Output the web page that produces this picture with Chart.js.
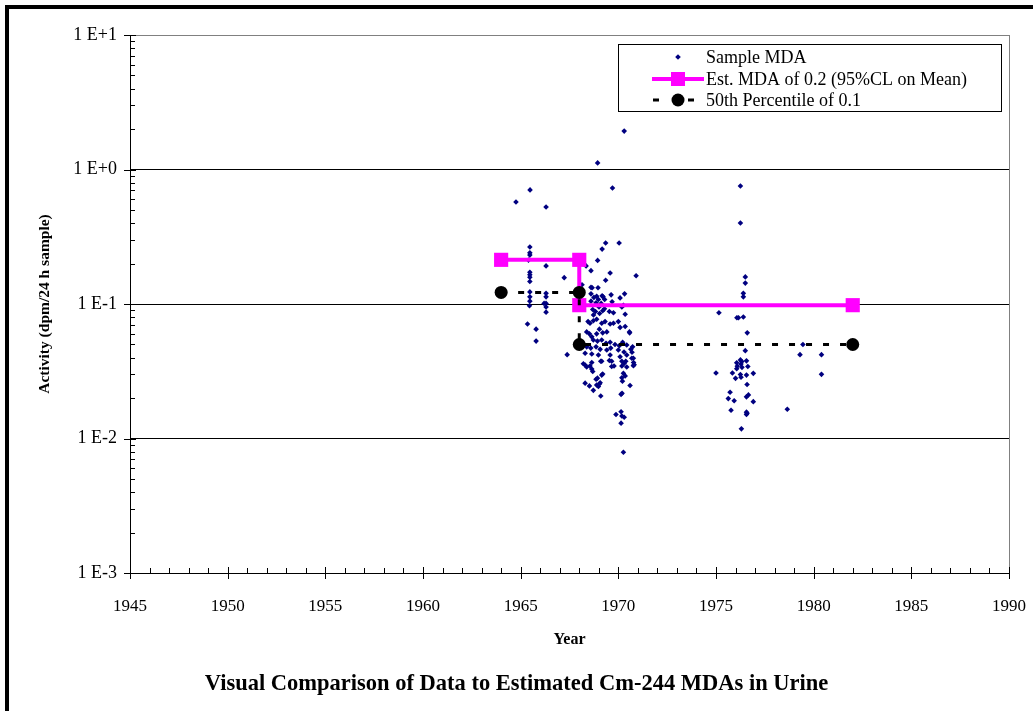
<!DOCTYPE html>
<html>
<head>
<meta charset="utf-8">
<script src="https://cdn.jsdelivr.net/npm/chart.js@4"></script>
<style>
html,body{margin:0;padding:0;background:#fff;}
#wrap{position:relative;width:1033px;height:711px;overflow:hidden;background:#fff;}
#frame{position:absolute;left:5px;top:5px;width:1100px;height:800px;border-left:4px solid #000;border-top:4px solid #000;pointer-events:none;}
canvas{position:absolute;left:0;top:0;}
</style>
</head>
<body>
<div id="wrap"><canvas id="c" width="1033" height="711"></canvas><div id="frame"></div></div>
<script>
// ---------------- DATA ----------------
const xTickLabels = ['1945','1950','1955','1960','1965','1970','1975','1980','1985','1990'];
const yTickLabels = ['1 E-3','1 E-2','1 E-1','1 E+0','1 E+1'];
const yTickValues = [0.001, 0.01, 0.1, 1, 10];

const seriesNames = ['Sample MDA', 'Est. MDA of 0.2 (95%CL on Mean)', '50th Percentile of 0.1'];

const sampleYears = [
  1964.76,1965.48,1966.30,1965.47,1965.47,1965.47,1965.40,1965.47,1965.47,1965.47,
  1965.47,1965.47,1965.47,1965.47,1965.45,1965.35,1965.79,1965.79,1966.30,1966.30,
  1966.30,1966.30,1966.20,1966.30,1966.30,1967.23,1967.38,
  1968.94,1969.70,1970.30,1969.35,1969.17,1970.04,1968.94,1968.35,1968.60,1969.58,
  1969.35,1970.91,1968.14,1968.60,1968.66,1968.96,1968.60,1969.63,1970.32,1970.09,
  1969.68,1968.89,1969.22,1969.17,
  1968.98,1968.86,1969.12,1969.01,1968.69,1968.83,1968.73,1969.04,1969.20,1969.29,
  1969.54,1969.75,1970.18,1970.26,1970.35,1968.45,1968.55,1968.72,1968.89,1969.15,
  1969.32,1969.58,1969.75,1970.00,1970.09,1970.35,1970.57,1968.38,1968.52,1968.64,
  1968.89,1969.03,1969.20,1969.41,1968.72,1968.93,1969.15,1969.37,1969.58,1969.83,
  1970.05,1970.22,1970.43,1968.38,1968.59,1968.86,1969.07,1969.41,1969.61,1970.00,
  1970.29,1970.64,1968.30,1968.64,1968.98,1969.58,1970.09,1970.43,1970.69,1968.21,
  1968.64,1969.15,1969.66,1970.18,1970.78,1969.66,1970.43,1968.60,1968.75,1969.30,
  1968.30,1968.38,1968.55,1968.64,1968.69,1969.10,1969.54,1969.78,1970.18,1970.30,
  1970.38,1970.81,1968.86,1968.93,1969.15,1969.20,1968.89,1969.03,1968.98,1969.07,
  1968.30,1968.52,1968.72,1969.10,1970.26,1970.35,1970.18,1970.21,1970.60,1970.14,
  1970.19,1969.88,1970.14,1970.18,1970.30,1970.14,1970.26,
  1970.58,1970.73,1970.70,1970.77,1970.77,
  1976.25,1976.25,1976.50,1976.50,1976.40,1976.40,1975.15,1976.07,1976.15,1976.40,
  1976.60,1979.45,1976.50,1979.30,1980.40,1980.40,1978.65,1976.30,
  1975.00,1975.84,1976.00,1976.06,1976.09,1976.06,1976.25,1976.32,1976.28,1976.33,
  1976.56,1976.63,1976.25,1976.28,1976.56,1976.91,1976.59,1975.72,1975.63,1975.93,
  1976.66,1976.56,1976.91,1975.77,1976.56,1976.56,1976.59
];
const sampleValues = [
  0.573,0.705,0.526,0.265,0.240,0.231,0.212,0.172,0.165,0.158,
  0.147,0.123,0.113,0.105,0.097,0.071,0.065,0.053,0.192,0.120,
  0.113,0.101,0.101,0.095,0.087,0.157,0.042,
  1.12,0.728,1.93,0.284,0.256,0.284,0.211,0.192,0.177,0.170,
  0.150,0.162,0.139,0.133,0.132,0.132,0.119,0.117,0.119,0.111,
  0.104,0.114,0.113,0.115,
  0.108,0.102,0.101,0.095,0.091,0.088,0.083,0.085,0.089,0.092,
  0.088,0.086,0.095,0.098,0.084,0.074,0.072,0.075,0.077,0.072,
  0.074,0.071,0.072,0.074,0.067,0.068,0.062,0.062,0.060,0.057,
  0.060,0.065,0.061,0.062,0.054,0.053,0.054,0.051,0.052,0.050,
  0.049,0.052,0.0496,0.048,0.047,0.048,0.046,0.0455,0.047,0.0455,
  0.044,0.046,0.043,0.0425,0.0418,0.0418,0.0405,0.0418,0.0395,0.036,
  0.0367,0.0375,0.0375,0.0375,0.0367,0.0343,0.034,0.105,0.112,0.108,
  0.0352,0.0340,0.0346,0.0328,0.0315,0.0375,0.038,0.0346,0.0346,0.0362,
  0.0375,0.0354,0.0276,0.0281,0.0296,0.0302,0.025,0.0254,0.0244,0.026,
  0.0258,0.0246,0.0228,0.0207,0.0305,0.0292,0.0283,0.0267,0.0248,0.0213,
  0.0217,0.0151,0.0158,0.0147,0.0144,0.013,0.0079,
  0.061,0.048,0.0438,0.0395,0.0348,
  0.753,0.400,0.159,0.143,0.120,0.113,0.086,0.079,0.079,0.080,
  0.061,0.050,0.045,0.042,0.042,0.030,0.0165,0.0118,
  0.0307,0.0307,0.028,0.0365,0.0345,0.033,0.0384,0.0373,0.0358,0.0338,
  0.0378,0.0343,0.0299,0.0285,0.0296,0.0305,0.0252,0.0221,0.0198,0.0191,
  0.0211,0.0204,0.0188,0.0162,0.0157,0.0151,0.0154
];

const mdaYears  = [1964, 1968, 1968, 1982];
const mdaValues = [0.213, 0.213, 0.098, 0.098];

const pctYears  = [1964, 1968, 1968, 1982];
const pctValues = [0.122, 0.122, 0.050, 0.050];

// ---------------- STYLE ----------------
const FONT = '"Liberation Serif", "Times New Roman", serif';
Chart.defaults.font.family = FONT;
Chart.defaults.color = '#000';

const toPts = (xs, ys) => xs.map((x, i) => ({x: x, y: ys[i]}));

const tickMarks = {
  id: 'tickMarks',
  afterDraw(chart) {
    const {ctx, chartArea: a, scales: {x, y}} = chart;
    ctx.save();
    ctx.strokeStyle = '#000';
    ctx.lineWidth = 1;
    ctx.beginPath();
    for (let v = 1945; v <= 1990; v += 1) {
      const px = Math.round(x.getPixelForValue(v)) + 0.5;
      const major = (v % 5 === 0);
      ctx.moveTo(px, a.bottom + (major ? 6 : 0));
      ctx.lineTo(px, a.bottom - (major ? 6 : 5));
    }
    const mult = [1,2,3,4,5,6,7,8,9];
    yTickValues.forEach(dec => {
      mult.forEach(m => {
        const v = dec * m;
        if (v > 10.0001) return;
        const py = Math.round(y.getPixelForValue(v)) + 0.5;
        const major = (m === 1);
        ctx.moveTo(a.left - (major ? 6 : 0), py);
        ctx.lineTo(a.left + (major ? 6 : 5), py);
      });
    });
    ctx.stroke();
    ctx.restore();
  }
};

const legendBox = {
  id: 'legendBox',
  afterDraw(chart) {
    const ctx = chart.ctx;
    const ds = chart.data.datasets;
    const bx = 618, by = 44, bw = 383, bh = 67;
    ctx.save();
    ctx.fillStyle = '#fff';
    ctx.fillRect(bx, by, bw, bh);
    ctx.strokeStyle = '#000';
    ctx.lineWidth = 1;
    ctx.strokeRect(bx + 0.5, by + 0.5, bw, bh);
    const rows = [57, 79, 100];
    const sx = 678, tx = 706;
    ctx.textBaseline = 'middle';
    ctx.fillStyle = ds[0].backgroundColor;
    ctx.beginPath();
    ctx.moveTo(sx, rows[0] - 2.8); ctx.lineTo(sx + 2.8, rows[0]); ctx.lineTo(sx, rows[0] + 2.8); ctx.lineTo(sx - 2.8, rows[0]);
    ctx.closePath(); ctx.fill();
    ctx.strokeStyle = ds[1].borderColor;
    ctx.lineWidth = 4;
    ctx.beginPath(); ctx.moveTo(652, rows[1]); ctx.lineTo(704, rows[1]); ctx.stroke();
    ctx.fillStyle = ds[1].pointBackgroundColor;
    ctx.fillRect(sx - 7, rows[1] - 7, 14, 14);
    ctx.strokeStyle = '#000';
    ctx.lineWidth = 3;
    ctx.beginPath();
    ctx.moveTo(653, rows[2]); ctx.lineTo(659, rows[2]);
    ctx.moveTo(688, rows[2]); ctx.lineTo(694, rows[2]);
    ctx.stroke();
    ctx.fillStyle = '#000';
    ctx.beginPath(); ctx.arc(sx, rows[2], 6.5, 0, Math.PI * 2); ctx.fill();
    ctx.font = '18px ' + FONT;
    ctx.fillStyle = '#000';
    ds.forEach((d, i) => ctx.fillText(d.label, tx, rows[i] + 1));
    ctx.restore();
  }
};

new Chart(document.getElementById('c'), {
  type: 'scatter',
  data: {
    datasets: [
      {
        label: seriesNames[0],
        data: toPts(sampleYears, sampleValues),
        showLine: false,
        pointStyle: 'rectRot',
        pointRadius: 2.8,
        pointBorderWidth: 0,
        backgroundColor: '#000080',
        borderColor: '#000080',
        order: 3
      },
      {
        label: seriesNames[1],
        data: toPts(mdaYears, mdaValues),
        showLine: true,
        borderColor: '#FF00FF',
        borderWidth: 4,
        pointStyle: 'rect',
        pointRadius: 10,
        pointBorderWidth: 0,
        pointBackgroundColor: '#FF00FF',
        backgroundColor: '#FF00FF',
        order: 2
      },
      {
        label: seriesNames[2],
        data: toPts(pctYears, pctValues),
        showLine: true,
        borderColor: '#000',
        borderWidth: 3,
        borderDash: [6, 11],
        pointStyle: 'circle',
        pointRadius: 6.5,
        pointBorderWidth: 0,
        pointBackgroundColor: '#000',
        backgroundColor: '#000',
        order: 1
      }
    ]
  },
  options: {
    responsive: false,
    animation: false,
    devicePixelRatio: 1,
    layout: {padding: {left: 0, right: 0, top: 35, bottom: 0}},
    plugins: {
      legend: {display: false},
      tooltip: {enabled: false},
      title: {
        display: true,
        position: 'bottom',
        text: 'Visual Comparison of Data to Estimated Cm-244 MDAs in Urine',
        color: '#000',
        font: {size: 22.5, weight: 'bold', family: FONT, lineHeight: 1.2},
        padding: {top: 0, bottom: 13}
      }
    },
    scales: {
      x: {
        type: 'linear',
        min: 1945,
        max: 1990,
        afterFit: s => { s.height = 98; s.paddingLeft = 0; s.paddingRight = 0; },
        afterBuildTicks: s => { s.ticks = xTickLabels.map(l => ({value: Number(l)})); },
        ticks: {
          callback: (v, i) => xTickLabels[i],
          font: {size: 17, family: FONT},
          color: '#000',
          padding: 23,
          maxRotation: 0,
          autoSkip: false
        },
        grid: {
          drawTicks: false,
          drawOnChartArea: true,
          color: c => (c.tick && c.tick.value === 1990) ? '#808080' : 'rgba(0,0,0,0)',
          lineWidth: 1
        },
        border: {display: true, color: '#000', width: 1},
        title: {
          display: true,
          text: 'Year',
          color: '#000',
          font: {size: 16, weight: 'bold', family: FONT, lineHeight: 1.2},
          padding: {top: 0, bottom: 22}
        }
      },
      y: {
        type: 'logarithmic',
        min: 0.001,
        max: 10,
        afterFit: s => { s.width = 130; s.paddingTop = 0; s.paddingBottom = 0; },
        afterBuildTicks: s => { s.ticks = yTickValues.map(v => ({value: v, major: true})); },
        ticks: {
          callback: (v, i) => yTickLabels[i],
          font: {size: 18, family: FONT},
          color: '#000',
          padding: 13,
          autoSkip: false
        },
        grid: {
          drawTicks: false,
          color: c => (c.tick && c.tick.value === 10) ? '#808080' : '#000',
          lineWidth: 1
        },
        border: {display: true, color: '#000', width: 1},
        title: {
          display: true,
          text: 'Activity (dpm/24 h sample)',
          color: '#000',
          font: {size: 15.5, weight: 'bold', family: FONT, lineHeight: 1.2},
          padding: {top: 35.7, bottom: 0}
        }
      },
      y2: {
        type: 'linear',
        position: 'right',
        display: true,
        afterFit: s => { s.width = 24; s.paddingTop = 0; s.paddingBottom = 0; },
        ticks: {display: false},
        grid: {display: false, drawTicks: false},
        border: {display: false}
      }
    }
  },
  plugins: [tickMarks, legendBox]
});
</script>
</body>
</html>
